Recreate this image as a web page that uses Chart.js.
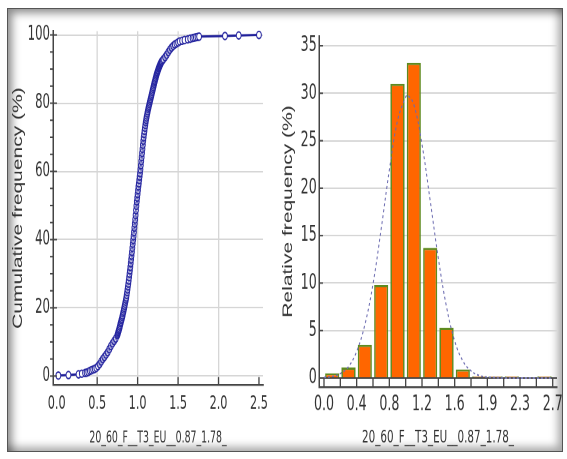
<!DOCTYPE html>
<html><head><meta charset="utf-8">
<script src="https://cdn.jsdelivr.net/npm/chart.js@4.4.0/dist/chart.umd.min.js"></script>
<style>
html,body{margin:0;padding:0;background:#fff;width:567px;height:459px;overflow:hidden;}
#frame{position:absolute;left:7px;top:8px;width:554px;height:442px;border:1px solid #555;background:#fff;
 box-shadow: inset 7px 7px 9px -3px rgba(0,0,0,0.45), inset -7px -7px 9px -3px rgba(0,0,0,0.35);}
.wrap{position:absolute;top:0;height:306px;transform:scaleY(1.5);transform-origin:0 0;}
#w1{left:0;width:275px}
#w2{left:275px;width:292px}
</style></head><body>
<div id="frame"></div>
<div class="wrap" id="w1"><canvas id="c1"></canvas></div>
<div class="wrap" id="w2"><canvas id="c2"></canvas></div>
<script>
// ---------- Left chart: cumulative frequency ----------
const cumX = [0.02,0.145,0.27,0.31,0.35,0.37,0.39,0.41,0.43,0.45,0.47,0.49,0.51,0.53,0.55,0.57,0.59,0.61,0.63,0.65,0.67,0.69,0.71,0.73,
  0.75,0.755,0.76,0.765,0.77,0.775,0.78,0.785,0.79,0.795,0.80,0.805,0.81,0.815,0.82,0.825,0.83,0.835,0.84,0.845,0.85,0.855,0.86,0.865,0.87,0.875,0.88,0.885,0.89,0.895,
  0.90,0.905,0.91,0.915,0.92,0.925,0.93,0.935,0.94,0.945,0.95,0.955,0.96,0.965,0.97,0.975,0.98,0.985,0.99,0.995,1.00,1.005,1.01,1.015,1.02,1.025,1.03,1.035,1.04,1.045,
  1.05,1.055,1.06,1.065,1.07,1.075,1.08,1.085,1.09,1.095,1.10,1.105,1.11,1.115,1.12,1.125,1.13,1.135,1.14,1.145,1.15,1.155,1.16,1.165,1.17,1.175,1.18,1.185,1.19,1.195,
  1.20,1.205,1.21,1.215,1.22,1.225,1.23,1.235,1.24,1.245,1.25,1.255,1.26,1.265,1.27,1.275,1.28,1.285,1.29,1.295,1.30,
  1.31,1.32,1.34,1.36,1.38,1.40,1.42,1.44,1.46,1.48,1.50,1.52,1.55,1.58,1.62,1.65,1.68,1.70,1.72,1.74,1.76,2.08,2.25,2.50];
const cumY = [0.15,0.3,0.5,0.7,0.9,1.0,1.2,1.5,1.7,1.9,2.1,2.4,2.9,3.5,4.3,5.0,5.6,6.3,7.0,7.9,8.8,9.6,10.3,11.0,
  12.0,12.4,12.8,13.2,13.6,14.0,14.5,15.0,15.5,15.9,16.4,16.8,17.3,17.8,18.4,18.9,19.5,20.0,20.6,21.2,21.8,22.4,23.0,23.8,24.6,25.4,26.3,27.1,28.0,29.0,
  30.0,31.0,32.0,33.1,34.2,35.3,36.4,37.6,38.8,39.9,41.0,42.2,43.5,44.7,45.9,47.2,48.6,49.9,51.2,52.3,53.4,54.5,55.6,56.5,57.5,58.5,59.5,60.6,61.8,63.0,
  64.2,65.4,66.6,67.8,69.0,70.0,71.0,71.9,72.8,73.6,74.4,75.1,75.8,76.4,77.0,77.6,78.2,78.7,79.2,79.7,80.2,80.7,81.2,81.7,82.2,82.7,83.2,83.7,84.2,84.7,
  85.2,85.7,86.2,86.6,87.1,87.5,88.0,88.4,88.8,89.1,89.5,89.8,90.2,90.5,90.8,91.1,91.4,91.6,91.9,92.1,92.3,
  92.6,92.9,93.5,94.2,95.0,95.7,96.3,96.8,97.2,97.5,97.8,98.1,98.3,98.5,98.7,98.9,99.1,99.2,99.3,99.4,99.5,99.7,99.85,100];
const cumXTickValues = [0,0.5,1.0,1.5,2.0,2.5];
const cumXTickLabels = ['0.0','0.5','1.0','1.5','2.0','2.5'];
const cumYTickValues = [0,20,40,60,80,100];
const cumYTickLabels = ['0','20','40','60','80','100'];

// ---------- Right chart: relative frequency histogram ----------
const binEdges = [0.04,0.23,0.42,0.61,0.80,0.99,1.18,1.37,1.56,1.75,1.94,2.13,2.32,2.51,2.70];
const relFreq = [0.5,1.1,3.5,9.8,31.0,33.2,13.7,5.3,0.9,0.15,0.15,0.15,0,0.15];
const edgeLabels = ['0.0','','0.4','','0.8','','1.2','','1.6','','1.9','','2.3','','2.7'];
const fitX = [0.04,0.135,0.23,0.325,0.42,0.515,0.61,0.705,0.80,0.895,0.99,1.013,1.085,1.18,1.275,1.37,1.465,1.56,1.655,1.75,1.845,1.94,2.13,2.32,2.51,2.70];
const fitY = [0.05,0.16,0.47,1.2,2.8,5.6,9.9,15.7,21.9,27.1,29.6,29.8,28.8,24.6,18.7,12.6,7.5,3.9,1.8,0.75,0.27,0.1,0.01,0,0,0];
const relYTickValues = [0,5,10,15,20,25,30,35];
const relYTickLabels = ['0','5','10','15','20','25','30','35'];

const AX = '#444444', GRID = '#d6d6d6', TXT = '#333333';
const NARROW = "'Liberation Sans Narrow','Arial Narrow','DejaVu Sans Condensed',sans-serif";
const SANS = "'Liberation Sans',Arial,sans-serif";

function line(ctx, x1, y1, x2, y2, w, c) {
  ctx.save(); ctx.strokeStyle = c; ctx.lineWidth = w;
  ctx.beginPath(); ctx.moveTo(x1, y1); ctx.lineTo(x2, y2); ctx.stroke(); ctx.restore();
}

const leftTicks = {
  id: 'leftTicks',
  afterDraw(chart) {
    const {ctx, chartArea: a, scales: {x, y}} = chart;
    cumXTickValues.forEach(v => { if (v > 0) { const px = x.getPixelForValue(v); line(ctx, px, a.bottom, px, a.bottom - 5.3, 1.3, AX); } });
    for (let v = 0; v <= 100; v += 5) {
      const py = y.getPixelForValue(v);
      if (v % 20 === 0) line(ctx, a.left - 3, py, a.left + 4, py, 1, AX);
      else line(ctx, a.left - 3, py, a.left, py, 1, AX);
    }
  }
};

const rightTicks = {
  id: 'rightTicks',
  afterDatasetDraw(chart, args) {
    if (args.index !== 0) return;
    const {ctx, chartArea: a, scales: {x, y}} = chart;
    const y0 = y.getPixelForValue(0);
    line(ctx, a.left, y0, a.right, y0, 1, AX);
    binEdges.forEach(v => { const px = x.getPixelForValue(v); line(ctx, px, a.bottom, px, y0, 1.3, AX); });
  },
  afterDraw(chart) {
    const {ctx, chartArea: a, scales: {y}} = chart;
    relYTickValues.forEach(v => { const py = y.getPixelForValue(v); line(ctx, a.left, py, a.left + 4, py, 1, AX); });
  }
};

Chart.defaults.animation = false;
Chart.defaults.color = TXT;

new Chart(document.getElementById('c1'), {
  type: 'line',
  data: { datasets: [{
    data: cumX.map((v, i) => ({x: v, y: cumY[i]})),
    borderColor: '#20209a', borderWidth: 1.5,
    pointRadius: 2.4, pointBorderWidth: 1, pointBorderColor: '#2626a0',
    pointBackgroundColor: c => { const p = c.raw; return (p && (p.y < 2.5 || p.y > 97)) ? '#ffffff' : 'rgba(255,255,255,0.35)'; },
    tension: 0, clip: false
  }]},
  options: {
    responsive: true, maintainAspectRatio: false, devicePixelRatio: 2,
    layout: { padding: {left: 0, top: 20.7, right: 12, bottom: 0} },
    plugins: { legend: {display: false}, tooltip: {enabled: false} },
    scales: {
      x: {
        type: 'linear', min: -0.046, max: 2.55,
        afterBuildTicks: s => { s.ticks = cumXTickValues.map(v => ({value: v})); },
        afterFit: s => { s.height = 49.3; },
        ticks: { autoSkip: false, maxRotation: 0, padding: 4.8, callback: (v, i) => cumXTickLabels[i],
                 font: {family: NARROW, size: 12.5}, color: TXT },
        grid: { drawTicks: false, lineWidth: 1.3,
                color: c => (c.tick && (c.tick.value === 0 || c.tick.value === 2.5)) ? 'rgba(0,0,0,0)' : GRID },
        border: { color: AX, width: 1.3 },
        title: { display: true, text: '20_60_F__T3_EU__0.87_1.78_', color: TXT,
                 font: {family: NARROW, size: 10.4}, padding: {top: 0, bottom: 7.6} }
      },
      y: {
        min: -2.64, max: 101.14,
        afterBuildTicks: s => { s.ticks = cumYTickValues.map(v => ({value: v})); },
        afterFit: s => { s.width = 53; },
        ticks: { autoSkip: false, padding: 3, callback: (v, i) => cumYTickLabels[i],
                 font: {family: NARROW, size: 13}, color: TXT },
        grid: { drawTicks: false, color: GRID, lineWidth: 1 },
        border: { color: AX, width: 1.5 },
        title: { display: true, text: 'Cumulative frequency (%)', color: TXT,
                 font: {family: SANS, size: 14}, padding: {top: 9.6, bottom: 0} }
      }
    }
  },
  plugins: [leftTicks]
});

new Chart(document.getElementById('c2'), {
  type: 'bar',
  data: { datasets: [
    { type: 'bar', order: 1,
      data: relFreq.map((v, i) => ({x: (binEdges[i] + binEdges[i + 1]) / 2, y: v})),
      backgroundColor: '#ff6600', borderColor: '#5e8a1f', borderWidth: 1.5, borderSkipped: 'start',
      barPercentage: 0.86, categoryPercentage: 1 },
    { type: 'line', order: 0,
      data: fitX.map((v, i) => ({x: v, y: fitY[i]})),
      borderColor: '#6b6bb0', borderWidth: 1, borderDash: [2, 2], pointRadius: 0, tension: 0.4 }
  ]},
  options: {
    responsive: true, maintainAspectRatio: false, devicePixelRatio: 2,
    layout: { padding: {left: 0, top: 24, right: 10, bottom: 0} },
    plugins: { legend: {display: false}, tooltip: {enabled: false} },
    scales: {
      x: {
        type: 'linear', min: -0.018, max: 2.75, offset: false,
        afterBuildTicks: s => { s.ticks = binEdges.map(v => ({value: v})); },
        afterFit: s => { s.height = 48; },
        ticks: { autoSkip: false, maxRotation: 0, padding: 3.6, callback: (v, i) => edgeLabels[i],
                 font: {family: NARROW, size: 14}, color: TXT },
        grid: { display: false, drawTicks: false, offset: false },
        border: { display: true, color: AX, width: 1.3 },
        title: { display: true, text: '20_60_F__T3_EU__0.87_1.78_', color: TXT,
                 font: {family: NARROW, size: 11.5}, padding: {top: 0, bottom: 7.1} }
      },
      y: {
        min: -0.948, max: 36.03,
        afterBuildTicks: s => { s.ticks = relYTickValues.map(v => ({value: v})); },
        afterFit: s => { s.width = 44; },
        ticks: { autoSkip: false, padding: 2.3, callback: (v, i) => relYTickLabels[i],
                 font: {family: NARROW, size: 14}, color: TXT },
        grid: { drawTicks: false, color: GRID, lineWidth: 1 },
        border: { color: AX, width: 1.5 },
        title: { display: true, text: 'Relative frequency (%)', color: TXT,
                 font: {family: SANS, size: 14}, padding: {top: 4.6, bottom: 0} }
      }
    }
  },
  plugins: [rightTicks]
});
</script>
</body></html>
